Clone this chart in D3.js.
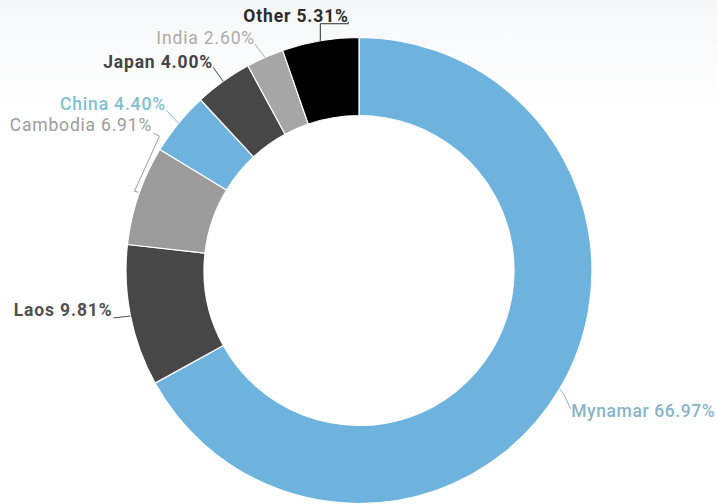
<!DOCTYPE html>
<html>
<head>
<meta charset="utf-8">
<script src="https://cdn.jsdelivr.net/npm/d3@7"></script>
<style>
  html, body { margin: 0; padding: 0; background: #fff; }
  svg { display: block; }
  text { font-family: Roboto, "Noto Sans", sans-serif; }
</style>
</head>
<body>
<svg id="chart" width="717" height="504"></svg>
<script>
// ---- data ----
const categories = ["Mynamar", "Laos", "Cambodia", "China", "Japan", "India", "Other"];
const shares     = [66.97, 9.81, 6.91, 4.40, 4.00, 2.60, 5.31];

// ---- styles ----
const sliceColors = ["#6db3de", "#474747", "#9b9b9b", "#6db3de", "#474747", "#a6a6a6", "#000000"];
const labelColors = ["#8ab4c6", "#505050", "#9c9c9c", "#7fbfce", "#454545", "#ababab", "#2b2b2b"];
const labelWeights = [500, 700, 400, 500, 700, 400, 700];
const labelSpacing = [0.6, 0.85, 0.8, 0.85, 0.85, 0.85, 0.85];
// label layout relative to the slice's outer mid-point (text anchor + connector bends)
const labelLayout = [
  { dx: 11.5, dy: 28,   anchor: "start", path: [[0,0],[4,5],[11,20]] },
  { dx: -18,  dy: 0.5,  anchor: "end",   path: [[0,0],[-17,2]] },
  { dx: 13.5, dy: -64,  anchor: "end",   path: [[0,-3],[-4,-4],[21,-59],[15,-62]] },
  { dx: -12.5,dy: -13,  anchor: "end",   path: [[0,0],[-12,-13]] },
  { dx: -10,  dy: -13,  anchor: "end",   path: [[0,0],[-10,-14]] },
  { dx: -10,  dy: -13,  anchor: "end",   path: [[0,0],[-10,-13]] },
  { dx: 28.5, dy: -19,  anchor: "end",   path: [[0,0],[0,-17],[28,-17],[28,-19]] }
];

const W = 717, H = 504;
const cx = 359, cy = 270.5, R = 233, r = 155;

const svg = d3.select("#chart");

// background gradient
const defs = svg.append("defs");
const grad = defs.append("linearGradient").attr("id", "bg").attr("x1", 0).attr("y1", 0).attr("x2", 0).attr("y2", 1);
grad.append("stop").attr("offset", "0").attr("stop-color", "#f6f7f9");
grad.append("stop").attr("offset", "0.22").attr("stop-color", "#ffffff");
grad.append("stop").attr("offset", "1").attr("stop-color", "#ffffff");
svg.append("rect").attr("width", W).attr("height", H).attr("fill", "url(#bg)");

const data = categories.map((c, i) => ({ name: c, value: shares[i], i }));
const pie = d3.pie().value(d => d.value).sort(null);
const arcs = pie(data);
const arc = d3.arc().innerRadius(r).outerRadius(R);

const g = svg.append("g").attr("transform", `translate(${cx},${cy})`);
g.selectAll("path.slice").data(arcs).join("path")
  .attr("class", "slice")
  .attr("d", arc)
  .attr("fill", d => sliceColors[d.data.i])
  .attr("stroke", "#ffffff")
  .attr("stroke-width", 1.2)
  .attr("stroke-linejoin", "round");

// labels & connectors
const fmt = d3.format(".2f");
arcs.forEach(d => {
  const i = d.data.i;
  const mid = (d.startAngle + d.endAngle) / 2;
  const ax = Math.sin(mid) * R, ay = -Math.cos(mid) * R;
  const L = labelLayout[i];
  const line = d3.line();
  g.append("path")
    .attr("d", line(L.path.map(p => [ax + p[0], ay + p[1]])))
    .attr("fill", "none")
    .attr("stroke", labelColors[i])
    .attr("stroke-width", 1);
  g.append("text")
    .attr("x", ax + L.dx)
    .attr("y", ay + L.dy)
    .attr("text-anchor", L.anchor)
    .attr("fill", labelColors[i])
    .attr("font-size", 17.5)
    .attr("font-weight", labelWeights[i])
    .attr("letter-spacing", labelSpacing[i])
    .text(`${d.data.name} ${fmt(d.data.value)}%`);
});
</script>
</body>
</html>
